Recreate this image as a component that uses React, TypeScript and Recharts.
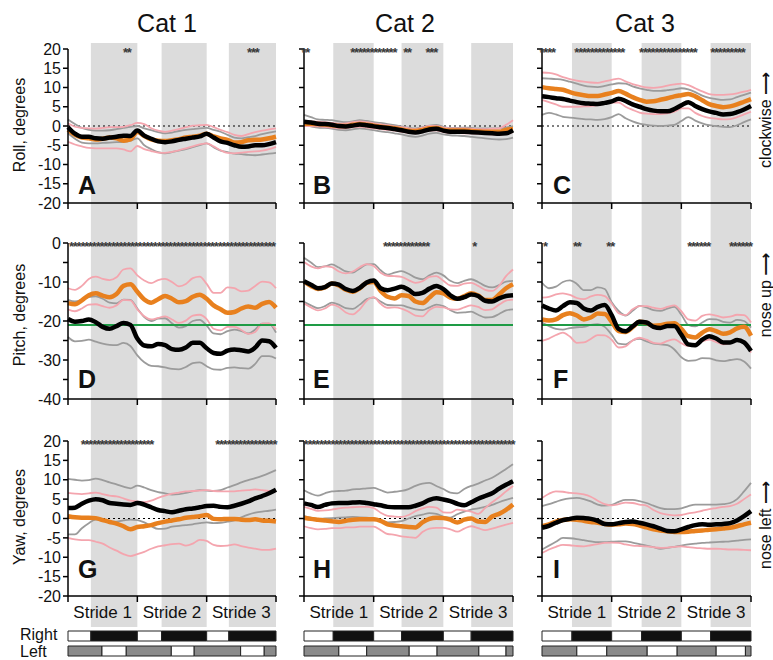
import React from 'react';
import {
  ComposedChart,
  Line,
  XAxis,
  YAxis,
  ReferenceArea,
  ReferenceLine,
  BarChart,
  Bar,
  Cell,
} from 'recharts';

const FONT = '"Liberation Sans", Arial, sans-serif';
const ORANGE = '#E8801E';
const PINK = '#F4A5AE';
const GRAY = '#9B9B9B';
const BAND = '#DCDCDC';
const GREEN = '#1E9B45';

// sample grid: 0..3 strides, every 0.1 stride
const STRIDE_PTS = Array.from({ length: 31 }, (_, i) => i / 10);
const STRIDE_LABELS = ['Stride 1', 'Stride 2', 'Stride 3'];

// ---- Roll, Cat 1 (A)
const A_ORANGE = [-1, -2.3, -3, -3.2, -3.5, -3.3, -3, -3.2, -3.8, -3.5, -1.5, -2.6, -3.5, -3.8, -3.9, -3.7, -3.4, -3, -2.8, -2.5, -2, -2.7, -3.2, -3.6, -4.3, -4.2, -3.7, -3.6, -3.5, -3.2, -2.8];
const A_ORANGE_HI = [0.7, -0.2, -0.5, -0.6, -0.7, -0.5, -0.3, -0.3, -0.2, 0.2, 0.8, 0.5, -0.6, -1.2, -1.5, -1.2, -0.8, -0.3, 0.1, 0.2, 0.3, -0.3, -1, -1.6, -2.3, -2.6, -2.1, -1.6, -1.2, -0.9, -0.6];
const A_ORANGE_LO = [-4.1, -4.8, -5.3, -5.7, -5.8, -5.8, -5.8, -5.8, -6.1, -6.6, -5.2, -6, -6.5, -6.9, -7, -6.7, -6.3, -5.8, -5.3, -4.8, -4.5, -5.3, -6.3, -7, -7.1, -6.9, -6.7, -6.6, -6.4, -6, -5.4];
const A_BLACK = [-0.3, -2, -2.8, -2.8, -3.2, -3.3, -3, -2.8, -2.5, -2.6, -1.2, -2.5, -3.3, -4, -4.2, -4, -3.6, -3.3, -3, -2.7, -2, -3, -4, -4.4, -5, -5.4, -5.3, -5, -5, -4.7, -4.2];
const A_BLACK_HI = [1.7, 0.5, -0.5, -1, -1.2, -1.2, -1.1, -0.8, -0.5, -0.2, 0, -0.6, -1.1, -1.6, -1.9, -1.7, -1.3, -1, -0.8, -0.6, -0.5, -1, -1.5, -2.3, -3, -3.2, -2.9, -2.6, -2.1, -1.7, -1.4];
const A_BLACK_LO = [-1.9, -3.3, -4.3, -4.5, -4.5, -4.4, -4.3, -4.2, -4.1, -3.8, -3.2, -5, -6, -6.8, -7.1, -6.8, -6.4, -6, -5.5, -5, -4.5, -5.5, -6.4, -6.8, -7.2, -7.3, -7.5, -7.6, -7.4, -7.2, -7];

// ---- Roll, Cat 2 (B)
const B_ORANGE = [0.6, 0.6, 0.5, 0.4, 0.2, 0, 0, 0.3, 0.5, 0.3, 0.1, -0.2, -0.4, -0.6, -0.9, -1.2, -1.3, -1, -0.6, -0.5, -1, -1.2, -1.2, -1.2, -1.3, -1.4, -1.5, -1.5, -1.5, -1, -0.8];
const B_ORANGE_HI = [1.2, 1.2, 1.1, 1, 0.8, 0.6, 0.7, 1, 1.2, 1, 0.7, 0.4, 0.2, -0.1, -0.3, -0.6, -0.8, -0.4, 0, 0, -0.4, -0.6, -0.6, -0.6, -0.7, -0.8, -0.8, -0.7, -0.6, 0.3, 1.5];
const B_ORANGE_LO = [0, 0, -0.1, -0.2, -0.4, -0.6, -0.6, -0.3, -0.2, -0.4, -0.6, -0.8, -1, -1.2, -1.5, -1.8, -1.9, -1.6, -1.2, -1.1, -1.6, -1.8, -1.8, -1.9, -1.9, -2, -2.1, -2.2, -2.3, -2, -1.6];
const B_BLACK = [1.1, 0.9, 0.6, 0.5, 0.3, 0, -0.1, 0.1, 0.4, 0.2, -0.1, -0.3, -0.5, -0.8, -1.1, -1.5, -1.7, -1.4, -0.9, -0.7, -1.2, -1.5, -1.5, -1.5, -1.6, -1.7, -1.8, -1.9, -2, -1.9, -1.1];
const B_BLACK_HI = [2.9, 2.3, 1.7, 1.6, 1.5, 1.2, 1, 1.2, 1.5, 1.3, 1, 0.8, 0.5, 0.2, -0.1, -0.4, -0.6, -0.3, 0.1, 0.3, -0.2, -0.5, -0.5, -0.4, -0.5, -0.6, -0.6, -0.6, -0.6, -0.4, 0];
const B_BLACK_LO = [0.2, -0.1, -0.4, -0.5, -0.7, -1, -1.1, -0.9, -0.6, -0.8, -1.1, -1.4, -1.6, -1.9, -2.2, -2.6, -2.8, -2.5, -2, -1.8, -2.2, -2.4, -2.5, -2.6, -2.8, -3, -3.2, -3.4, -3.5, -3.4, -3];

// ---- Roll, Cat 3 (C)
const C_ORANGE = [10.1, 9.8, 9.6, 9.4, 8.8, 8.3, 8, 7.8, 7.8, 8.2, 8.6, 9.1, 8.4, 7.5, 6.8, 6.3, 6.4, 6.8, 7.2, 7.7, 8, 8.3, 7.7, 6.7, 5.7, 5.2, 4.9, 5.1, 5.6, 6.3, 7];
const C_ORANGE_HI = [13.9, 13.8, 13.4, 12.7, 12.2, 11.8, 11.5, 11.3, 11.2, 11.6, 12, 12.3, 11.6, 10.9, 10.4, 10, 9.9, 10.1, 10.5, 10.8, 11, 10.6, 9.8, 9, 8.3, 8.1, 8.1, 8.2, 8.5, 8.9, 9.4];
const C_ORANGE_LO = [6.8, 6.2, 5.6, 5, 5, 5, 5.1, 5.2, 5.4, 5.8, 6.1, 6.1, 5, 4.2, 3.5, 3.2, 3.1, 3.1, 3.3, 3.7, 4.6, 4.6, 3.4, 2.6, 2.1, 1.9, 1.7, 1.8, 2.3, 3, 3.7];
const C_BLACK = [7.7, 7.5, 7.2, 7, 6.6, 6.2, 5.9, 5.8, 5.7, 6, 6.4, 7.1, 6.5, 5.6, 5, 4.4, 4, 3.8, 3.8, 4.4, 5.4, 6.2, 5.2, 4.4, 3.8, 3.4, 3, 3.1, 3.6, 4.3, 5.2];
const C_BLACK_HI = [12.4, 12.3, 12.2, 12, 11.5, 11, 10.5, 10.2, 10.1, 10.4, 10.8, 11.1, 11, 10.3, 9.8, 9.4, 9.1, 9.1, 9.3, 9.5, 9.8, 9.5, 8.8, 7.9, 7.3, 7, 6.8, 6.9, 7.5, 8.1, 8.7];
const C_BLACK_LO = [2.9, 3.4, 3, 2.4, 2.2, 2, 1.8, 1.7, 1.6, 1.8, 2.3, 3.1, 2, 1.2, 0.6, 0.3, 0.1, 0, 0.1, 0.3, 1.3, 2.3, 1.4, 0.7, 0.2, 0, -0.2, -0.3, 0.2, 1, 1.7];

// ---- Pitch, Cat 1 (D)
const D_ORANGE = [-15.4, -15.7, -14.7, -13.4, -12.9, -13.5, -13.9, -13.1, -11, -10.6, -12.5, -14.5, -15.3, -14.4, -13.6, -14.3, -15.2, -14.9, -13.8, -13.3, -14.3, -16, -17, -17.9, -17.7, -16.8, -16.3, -16.6, -15.6, -15.1, -16.6];
const D_ORANGE_HI = [-11.6, -12, -11, -9.2, -8.6, -9.2, -9.5, -8.8, -6.8, -6.5, -8.3, -9.6, -10.3, -9.5, -9.2, -10, -11.1, -10.5, -9, -8.6, -10.5, -12.8, -12.8, -11.4, -11.6, -12.4, -12.2, -11, -9.9, -10.1, -11.6];
const D_ORANGE_LO = [-17, -17.5, -16.8, -15.8, -15.7, -16.2, -16.6, -16, -14.6, -14.7, -17, -18.8, -19.6, -19.2, -18.8, -19.6, -20.5, -19.9, -18.6, -18.4, -19.5, -22, -22.4, -21.5, -21.5, -22.3, -23.3, -22.8, -20.7, -20.6, -22.2];
const D_BLACK = [-19.5, -20.2, -20, -19.6, -20.3, -21.5, -22, -21.3, -20.5, -21, -24.5, -26.3, -26.5, -25.9, -26.2, -27.2, -27.4, -26.8, -25.6, -25.6, -27, -28.2, -28.4, -27.6, -27.3, -27.5, -27.8, -26.8, -25, -25.2, -26.9];
const D_BLACK_HI = [-14.6, -15, -14.6, -13.9, -13.7, -14.3, -15.3, -15.5, -14.5, -14.6, -16.8, -19, -20, -19.4, -19.3, -20.6, -21.7, -21.3, -20, -19.7, -21.2, -23.2, -23.4, -22.6, -22.2, -22.6, -23.2, -22.2, -20.7, -20.7, -23];
const D_BLACK_LO = [-24.1, -25.2, -25.1, -24.8, -25.3, -25.8, -26.1, -26.2, -25.6, -26.4, -28.8, -30.6, -31.5, -31.6, -31.9, -32.3, -32.4, -31.8, -30.8, -30.6, -31.6, -32.4, -32.5, -32, -31.9, -32.1, -32.2, -31, -29, -29, -29.6];

// ---- Pitch, Cat 2 (E)
const E_ORANGE = [-9.9, -11, -11.8, -11.4, -10.4, -10.9, -12, -12.5, -11.6, -10.2, -10, -12.3, -13.8, -14.2, -13.4, -13.6, -15, -15.4, -14, -12.6, -12.9, -14, -14.3, -13.6, -12.9, -13.5, -14.6, -14.6, -13.2, -11.6, -10.6];
const E_ORANGE_HI = [-4.9, -6, -6.5, -6, -6.2, -7.3, -7.8, -7.3, -6.2, -5.4, -5.9, -7.6, -8.4, -8.5, -8.7, -9.5, -10.2, -9.8, -8.7, -8.5, -9.7, -10.9, -11, -10.4, -10.2, -11, -12, -12.3, -11, -8.5, -6.8];
const E_ORANGE_LO = [-15.5, -16.5, -17.3, -16.8, -15.8, -16.4, -17.8, -18.3, -17, -14.8, -13.9, -15.6, -16.6, -16.5, -16.8, -17.6, -18.6, -18.8, -17.2, -16.4, -16.5, -17, -17.1, -16.5, -16, -16.4, -17.2, -17, -15.8, -14.8, -14.5];
const E_BLACK = [-9.8, -10.7, -11.6, -11.3, -10.4, -10.7, -11.8, -12.3, -11.5, -10.1, -9.6, -11.6, -12.1, -11.7, -11.2, -12, -13.1, -12.8, -11.7, -11, -11.8, -13.4, -14.3, -13.9, -13.2, -13.6, -14.8, -15, -14.2, -13.6, -13.4];
const E_BLACK_HI = [-3.8, -5, -6.2, -6, -5.5, -6.3, -7.3, -7.6, -6.5, -5.5, -5.4, -7, -8.1, -7.6, -7.2, -7.9, -8.9, -9.3, -8.3, -7.6, -8.3, -9.7, -10.3, -9.7, -9.3, -10, -11, -11.4, -10.8, -9.9, -9.7];
const E_BLACK_LO = [-15.1, -16, -16.7, -16.2, -15.3, -15.8, -16.7, -16.9, -15.8, -14.4, -14, -15, -15.9, -16, -16, -16.5, -17, -17.2, -16.5, -15.8, -16.2, -17.2, -17.9, -17.8, -17.6, -18.4, -19.1, -19, -18.2, -17.3, -17];

// ---- Pitch, Cat 3 (F)
const F_ORANGE = [-19.6, -19.9, -19.6, -18.5, -18, -18.6, -19.6, -19.1, -18.1, -18.2, -20.2, -22.6, -22.8, -21.6, -20.2, -20.5, -21.2, -21.1, -20.7, -20.6, -22, -23.9, -24.2, -23, -22.1, -22.6, -23.3, -22.9, -21.9, -21.5, -23.8];
const F_ORANGE_HI = [-14, -13.8, -13.2, -12.9, -13.3, -14.1, -14.4, -13.7, -13.3, -13.6, -15.5, -18, -18.5, -17, -16.2, -16.2, -16.6, -16.9, -16.4, -16, -17.5, -19.6, -19.9, -18.7, -18.3, -18.6, -19.1, -18.9, -18.4, -18.5, -20.4];
const F_ORANGE_LO = [-25.1, -24.5, -23.6, -23, -24, -25.6, -25.5, -24.6, -23.6, -23.7, -24.8, -26.8, -26.5, -25, -24.3, -24.8, -25.6, -25.8, -25.1, -24.7, -25.7, -26.4, -26.1, -25.2, -24.8, -25.4, -26, -25.7, -25.1, -25.5, -28.1];
const F_BLACK = [-16, -16.8, -17.3, -16.2, -15.2, -15.4, -16.8, -17.3, -16.4, -15.9, -18.5, -22, -22.6, -21.4, -20.2, -20.4, -21.5, -21.8, -21.3, -21.3, -23.5, -26, -26.2, -24.8, -23.9, -24.5, -25.5, -25.5, -24.9, -25.5, -27.7];
const F_BLACK_HI = [-10.2, -11.6, -11.2, -10, -9.6, -10.5, -12.1, -12.1, -11.4, -11.8, -15.2, -17.4, -18.6, -17.4, -16.1, -16.5, -17.2, -17.4, -16.8, -16.4, -18.4, -21, -21.4, -20.4, -19.5, -19.6, -20.2, -20.4, -19.7, -20, -21.7];
const F_BLACK_LO = [-20.4, -21.3, -22, -22.2, -21.8, -21.6, -21.5, -21, -20.8, -21.5, -23.5, -25.8, -26, -25, -24.6, -25.2, -25.8, -26, -26.2, -27.3, -29.3, -30.2, -30.1, -29.5, -29.6, -30.1, -30.3, -30, -29.8, -30.4, -32.2];

// ---- Yaw, Cat 1 (G)
const G_ORANGE = [0.6, 0.3, 0.2, 0.2, 0.1, -0.4, -0.9, -1.3, -2, -2.8, -2.2, -2, -1.7, -1.2, -0.8, -0.5, -0.2, 0.2, 0.4, 0.6, 0.9, -0.1, -0.2, -0.1, -0.1, -0.3, -0.4, -0.2, -0.5, -0.6, -0.8];
const G_ORANGE_HI = [6.6, 6.4, 6.3, 6.5, 6.7, 6.3, 5.9, 5.7, 5.2, 4.6, 4.4, 4.2, 4.6, 5.3, 5.9, 6.4, 6.7, 7, 7.1, 7.2, 7.3, 7.1, 7, 7, 7, 7.2, 7.3, 7.5, 7.3, 7.1, 7];
const G_ORANGE_LO = [-5, -5.4, -5.6, -5.6, -6, -6.5, -7.5, -8.3, -9.2, -9.7, -9.2, -8.6, -7.8, -7.2, -6.9, -6.6, -6.5, -7, -6.5, -5.5, -5.8, -6.8, -7.1, -7, -6.7, -7.1, -7.5, -7.8, -8.1, -8.1, -7.8];
const G_BLACK = [2.7, 2.8, 3.8, 4.6, 5, 4.7, 4, 3.8, 3.6, 3.5, 4, 3.6, 2.9, 2.2, 1.9, 1.6, 2, 2.4, 2.6, 2.9, 3.2, 3.3, 3, 2.9, 3.3, 3.8, 4.4, 5.2, 5.8, 6.5, 7.4];
const G_BLACK_HI = [10.2, 10, 9.8, 9.9, 10.3, 9.9, 9.3, 8.8, 8.2, 7.8, 8.5, 8, 7.3, 6.8, 6.5, 6.2, 6.3, 6.6, 7, 7.3, 7.2, 7.1, 7.3, 8, 8.6, 9.3, 9.9, 10.4, 11, 11.7, 12.5];
const G_BLACK_LO = [-4.1, -4.1, -2.5, -1.2, -0.3, -0.5, -0.8, -0.8, -0.5, -0.3, -0.4, -1, -2, -2.7, -2.6, -2.1, -1.9, -1.7, -1.5, -1.2, -1, -1.2, -1.1, -0.8, -0.5, 0.3, 1, 1.5, 1.8, 2, 2.3];

// ---- Yaw, Cat 2 (H)
const H_ORANGE = [0.2, -0.1, -0.3, -0.5, -0.7, -0.9, -0.6, -0.3, -0.2, -0.2, -0.2, -0.6, -1.5, -1.8, -2, -2.2, -2.3, -1, -0.1, 0.2, 0.1, -0.3, -1, -0.3, 0, -0.8, -0.9, 0.5, 1.2, 2.2, 3.6];
const H_ORANGE_HI = [3, 2.5, 2, 2.1, 2.3, 2.6, 2.8, 2.9, 3, 3, 2.7, 1.5, 0.7, 0.5, 0.4, 0.9, 1.9, 2.6, 3, 2.8, 1.6, 1.5, 2.3, 2.1, 1.8, 1.2, 2.7, 4.2, 5.5, 7, 8.4];
const H_ORANGE_LO = [-2, -2.5, -2.8, -2.7, -2.5, -2.5, -2.3, -2.3, -2.1, -2.1, -2.1, -3, -4, -4.2, -4.6, -4.8, -5, -3.5, -2.6, -2.4, -2.4, -2.8, -3.4, -2.6, -2, -2.5, -3, -2.6, -2.1, -1.6, -1.1];
const H_BLACK = [3.9, 3.5, 3, 3.5, 3.9, 4, 4, 4.1, 4.2, 4, 3.7, 3.4, 3, 2.9, 2.9, 2.9, 3.3, 3.9, 4.8, 5.2, 4.9, 4.5, 3.8, 3.4, 4.2, 5.1, 5.8, 6.5, 7.7, 8.7, 9.6];
const H_BLACK_HI = [7.3, 6.4, 5.9, 6.5, 7, 7.1, 7.2, 7.5, 7.6, 7.8, 7.9, 7.3, 6.7, 6.9, 7.1, 7.6, 8.4, 9, 9.2, 8.4, 7.6, 6.7, 6.5, 7.6, 8.4, 9, 9.8, 10.5, 11.6, 12.8, 14];
const H_BLACK_LO = [0.6, 0.2, -0.1, 0, 0.1, 0.2, 0.3, 0.4, 0.3, 0.2, 0.1, -0.5, -1, -0.9, -0.7, 0, 0.6, 1, 1.4, 1.2, 0.5, 0.2, 1.1, 1.8, 2.3, 2.6, 3, 3.5, 4.2, 4.8, 5.3];

// ---- Yaw, Cat 3 (I)
const I_ORANGE = [-2, -1.5, -0.8, -0.4, -0.2, -0.3, -0.6, -0.9, -1.1, -1.4, -1.6, -1.5, -1.3, -1.4, -1.8, -2.3, -2.8, -3.1, -3.3, -3.5, -3.5, -3.4, -3.2, -3.1, -2.9, -2.8, -2.6, -2.4, -2, -1.5, -1.1];
const I_ORANGE_HI = [5.3, 6.4, 7, 6.9, 6.6, 6.5, 6.2, 5.6, 4.6, 3.7, 3.4, 3.7, 4.1, 4, 3.6, 3.3, 2.2, 1.4, 1, 0.8, 0.9, 1.3, 1.6, 2, 2.4, 2.7, 3, 3.2, 3.8, 5, 6.2];
const I_ORANGE_LO = [-8.9, -8, -7.3, -6.8, -6.9, -7.1, -7.2, -6.9, -6.6, -6.3, -6.2, -6.3, -6.7, -7, -7.1, -7.2, -7.4, -7.6, -7.5, -7.3, -7.2, -7.4, -7.6, -7.7, -7.8, -7.8, -7.9, -8, -8, -8.1, -8.2];
const I_BLACK = [-2.4, -1.9, -1.1, -0.4, -0.1, 0.2, 0.1, -0.1, -0.6, -1.4, -1.5, -1.2, -0.9, -0.8, -1.1, -1.5, -2, -2.6, -3.2, -3.3, -2.8, -2.2, -1.7, -1.5, -1.6, -1.5, -1.4, -1.2, -0.5, 0.6, 1.9];
const I_BLACK_HI = [3.2, 3.7, 4.3, 4.9, 5.2, 5.3, 5, 4.4, 3.6, 3.3, 3.5, 4.3, 4.8, 4.8, 4.5, 4, 3.3, 2.7, 2.4, 2.4, 2.6, 3.2, 3.6, 3.6, 3.6, 3.6, 3.7, 4, 5, 7, 9.2];
const I_BLACK_LO = [-8, -7, -6, -5, -5.1, -5.3, -5.6, -5.9, -6.1, -6.1, -6, -5.9, -5.9, -6.2, -6.6, -7, -7.4, -7.8, -7.6, -7.3, -7, -6.7, -6.5, -6.3, -6.2, -6.1, -6, -5.9, -5.7, -5.5, -5.4];

// stance phases in stride units (Right stance = grey bands)
const RIGHT_STANCE_1 = [[0.33, 1.0], [1.35, 2.0], [2.32, 3.0]];
const RIGHT_STANCE_2 = [[0.42, 1.0], [1.4, 2.0], [2.4, 3.0]];
const RIGHT_STANCE_3 = [[0.43, 1.0], [1.43, 2.0], [2.42, 3.0]];
const LEFT_STANCE_1 = [[0, 0.49], [0.84, 1.49], [1.82, 2.49], [2.83, 3.0]];
const LEFT_STANCE_2 = [[0, 0.5], [0.9, 1.51], [1.91, 2.51], [2.9, 3.0]];
const LEFT_STANCE_3 = [[0, 0.5], [0.93, 1.51], [1.94, 2.5], [2.92, 3.0]];

// significance marks (ranges in stride units)
const STARS_A = [[0.83, 0.9], [2.62, 2.76]];
const STARS_B = [[0.0, 0.06], [0.7, 1.33], [1.46, 1.53], [1.78, 1.9]];
const STARS_C = [[0.0, 0.2], [0.5, 1.2], [1.43, 2.2], [2.45, 2.93]];
const STARS_D = [[0.05, 3.0]];
const STARS_E = [[1.17, 1.79], [2.45, 2.45]];
const STARS_F = [[0.05, 0.05], [0.48, 0.58], [0.96, 1.06], [2.12, 2.4], [2.72, 3.0]];
const STARS_G = [[0.22, 1.25], [2.16, 3.0]];
const STARS_H = [[0.03, 3.0]];
const STARS_I: number[][] = [];

const ROLL_TICKS = [-20, -15, -10, -5, 0, 5, 10, 15, 20];
const PITCH_TICKS = [-40, -35, -30, -25, -20, -15, -10, -5, 0];

// bandTop: where the grey stance bands start inside each svg
const ROWS = [
  { top: 33, height: 190, mTop: 16, bandTop: 10, axisH: 20, domain: [-20, 20], ticks: ROLL_TICKS, every: 5, zero: true, green: null },
  { top: 223, height: 197, mTop: 20, bandTop: 0, axisH: 21, domain: [-40, 0], ticks: PITCH_TICKS, every: 10, zero: false, green: -21 },
  { top: 420, height: 207, mTop: 21, bandTop: 0, axisH: 6, domain: [-20, 20], ticks: ROLL_TICKS, every: 5, zero: true, green: null },
];

const COLS = [
  { left: 0, width: 282, axisW: 68, plotW: 208 },
  { left: 290, width: 228, axisW: 14, plotW: 209 },
  { left: 528, width: 228, axisW: 14, plotW: 209 },
];

const PANELS = [
  { row: 0, col: 0, o: A_ORANGE, oh: A_ORANGE_HI, ol: A_ORANGE_LO, b: A_BLACK, bh: A_BLACK_HI, bl: A_BLACK_LO, stars: STARS_A },
  { row: 0, col: 1, o: B_ORANGE, oh: B_ORANGE_HI, ol: B_ORANGE_LO, b: B_BLACK, bh: B_BLACK_HI, bl: B_BLACK_LO, stars: STARS_B },
  { row: 0, col: 2, o: C_ORANGE, oh: C_ORANGE_HI, ol: C_ORANGE_LO, b: C_BLACK, bh: C_BLACK_HI, bl: C_BLACK_LO, stars: STARS_C },
  { row: 1, col: 0, o: D_ORANGE, oh: D_ORANGE_HI, ol: D_ORANGE_LO, b: D_BLACK, bh: D_BLACK_HI, bl: D_BLACK_LO, stars: STARS_D },
  { row: 1, col: 1, o: E_ORANGE, oh: E_ORANGE_HI, ol: E_ORANGE_LO, b: E_BLACK, bh: E_BLACK_HI, bl: E_BLACK_LO, stars: STARS_E },
  { row: 1, col: 2, o: F_ORANGE, oh: F_ORANGE_HI, ol: F_ORANGE_LO, b: F_BLACK, bh: F_BLACK_HI, bl: F_BLACK_LO, stars: STARS_F },
  { row: 2, col: 0, o: G_ORANGE, oh: G_ORANGE_HI, ol: G_ORANGE_LO, b: G_BLACK, bh: G_BLACK_HI, bl: G_BLACK_LO, stars: STARS_G },
  { row: 2, col: 1, o: H_ORANGE, oh: H_ORANGE_HI, ol: H_ORANGE_LO, b: H_BLACK, bh: H_BLACK_HI, bl: H_BLACK_LO, stars: STARS_H },
  { row: 2, col: 2, o: I_ORANGE, oh: I_ORANGE_HI, ol: I_ORANGE_LO, b: I_BLACK, bh: I_BLACK_HI, bl: I_BLACK_LO, stars: STARS_I },
];

const BANDS = [RIGHT_STANCE_1, RIGHT_STANCE_2, RIGHT_STANCE_3];
const LEFTS = [LEFT_STANCE_1, LEFT_STANCE_2, LEFT_STANCE_3];

const STAR_STEP = 0.055;

function makeStars(ranges: number[][], top: number) {
  const pts: { s: number; y: number }[] = [];
  ranges.forEach(([a, b]) => {
    for (let x = a; x <= b + 1e-6; x += STAR_STEP) pts.push({ s: x, y: top });
  });
  return pts;
}

const StarDot = (p: any) => {
  if (p.cx == null || p.cy == null) return <g key={`st-${p.index}`} />;
  return (
    <text key={`st-${p.index}`} x={p.cx} y={p.cy} dy={7.5} textAnchor="middle" fontSize={13} fontWeight="bold" fill="#3a3a3a" fontFamily={FONT}>
      *
    </text>
  );
};

const axisStyle = { stroke: '#000', strokeWidth: 1.5 };

function Panel({ p }: { p: any }) {
  const r = ROWS[p.row];
  const c = COLS[p.col];
  const data = STRIDE_PTS.map((s, i) => ({
    s,
    o: p.o[i],
    oh: p.oh[i],
    ol: p.ol[i],
    b: p.b[i],
    bh: p.bh[i],
    bl: p.bl[i],
  }));
  const stars = makeStars(p.stars, r.domain[1]);
  const fmtY = (v: number) => (p.col === 0 && v % r.every === 0 ? String(v) : '');
  const H = r.height;
  return (
    <div style={{ position: 'absolute', left: c.left, top: r.top }}>
      <ComposedChart
        width={c.width}
        height={H}
        data={data}
        margin={{ top: r.mTop, right: c.width - c.axisW - c.plotW, bottom: 0, left: 0 }}
      >
        <XAxis
          dataKey="s"
          type="number"
          domain={[0, 3]}
          ticks={[0, 1, 2, 3]}
          interval={0}
          tickFormatter={() => ''}
          height={r.axisH}
          tickSize={6}
          axisLine={axisStyle}
          tickLine={axisStyle}
        />
        {p.row === 2 && (
          <XAxis
            xAxisId="lbl"
            dataKey="s"
            type="number"
            domain={[0, 3]}
            ticks={[0.5, 1.5, 2.5]}
            interval={0}
            tickFormatter={(_v: number, i: number) => STRIDE_LABELS[i]}
            axisLine={false}
            tickLine={false}
            tickSize={0}
            tickMargin={4}
            height={25}
            tick={{ fontSize: 17, fill: '#111', fontFamily: FONT }}
          />
        )}
        <YAxis
          type="number"
          domain={r.domain}
          ticks={r.ticks}
          interval={0}
          width={c.axisW}
          tickSize={5}
          tickMargin={2}
          tickFormatter={fmtY}
          axisLine={axisStyle}
          tickLine={axisStyle}
          tick={{ fontSize: 16, fill: '#111', fontFamily: FONT }}
        />
        {BANDS[p.col].map(([a, b]) => (
          <ReferenceArea
            key={`band-${a}`}
            x1={a}
            x2={b}
            shape={(sp: any) => <rect x={sp.x} y={r.bandTop} width={sp.width} height={H - r.bandTop} fill={BAND} />}
          />
        ))}
        {r.zero && <ReferenceLine y={0} stroke="#000" strokeDasharray="2 3" strokeWidth={1} />}
        <Line dataKey="bh" type="monotone" stroke={GRAY} strokeWidth={1.8} dot={false} activeDot={false} isAnimationActive={false} />
        <Line dataKey="bl" type="monotone" stroke={GRAY} strokeWidth={1.8} dot={false} activeDot={false} isAnimationActive={false} />
        <Line dataKey="oh" type="monotone" stroke={PINK} strokeWidth={1.8} dot={false} activeDot={false} isAnimationActive={false} />
        <Line dataKey="ol" type="monotone" stroke={PINK} strokeWidth={1.8} dot={false} activeDot={false} isAnimationActive={false} />
        {r.green !== null && <ReferenceLine y={r.green} stroke={GREEN} strokeWidth={2} />}
        <Line dataKey="o" type="monotone" stroke={ORANGE} strokeWidth={4.5} dot={false} activeDot={false} isAnimationActive={false} />
        <Line dataKey="b" type="monotone" stroke="#000" strokeWidth={4.5} dot={false} activeDot={false} isAnimationActive={false} />
        {stars.length > 0 && (
          <Line data={stars} dataKey="y" stroke="none" dot={StarDot} activeDot={false} isAnimationActive={false} />
        )}
      </ComposedChart>
    </div>
  );
}

function toSegments(intervals: number[][]) {
  const segs: { len: number; on: boolean }[] = [];
  let pos = 0;
  intervals.forEach(([a, b]) => {
    if (a > pos + 1e-6) segs.push({ len: a - pos, on: false });
    segs.push({ len: b - a, on: true });
    pos = b;
  });
  if (pos < 3 - 1e-6) segs.push({ len: 3 - pos, on: false });
  return segs;
}

const RowTick = (p: any) => (
  <text
    x={p.x - 48}
    y={p.y}
    dy={p.index === 0 ? '0.28em' : '0.42em'}
    textAnchor="start"
    fontSize={16}
    fill="#111"
    fontFamily={FONT}
  >
    {p.payload.value}
  </text>
);

function StanceBars({ col }: { col: number }) {
  const c = COLS[col];
  const rs = toSegments(BANDS[col]);
  const ls = toSegments(LEFTS[col]);
  const n = Math.max(rs.length, ls.length);
  const rowR: any = { name: 'Right' };
  const rowL: any = { name: 'Left' };
  rs.forEach((s, i) => (rowR[`s${i}`] = s.len));
  ls.forEach((s, i) => (rowL[`s${i}`] = s.len));
  const rows = [rowR, rowL];
  const idx = Array.from({ length: n }, (_, i) => i);
  return (
    <div style={{ position: 'absolute', left: c.left, top: 627 }}>
      <BarChart
        layout="vertical"
        width={c.width}
        height={33}
        data={rows}
        margin={{ top: 1, bottom: 2, left: col === 0 ? 0 : c.axisW, right: c.width - c.axisW - c.plotW }}
      >
        <XAxis type="number" domain={[0, 3]} hide />
        <YAxis
          type="category"
          dataKey="name"
          width={c.axisW}
          hide={col !== 0}
          interval={0}
          axisLine={false}
          tickLine={false}
          tickSize={0}
          tickMargin={0}
          tick={RowTick}
        />
        {idx.map((i) => (
          <Bar key={i} dataKey={`s${i}`} stackId="st" barSize={10} stroke="#222" strokeWidth={1} isAnimationActive={false}>
            <Cell fill={rs[i] && rs[i].on ? '#111' : '#fff'} />
            <Cell fill={ls[i] && ls[i].on ? '#8A8A8A' : '#fff'} />
          </Bar>
        ))}
      </BarChart>
    </div>
  );
}

const TITLES = [
  { text: 'Cat 1', x: 167 },
  { text: 'Cat 2', x: 405 },
  { text: 'Cat 3', x: 645 },
];
const Y_TITLES = [
  { text: 'Roll, degrees', y: 125 },
  { text: 'Pitch, degrees', y: 315 },
  { text: 'Yaw, degrees', y: 517 },
];
const SIDE_LABELS = [
  { text: 'clockwise', y: 120 },
  { text: 'nose up', y: 295 },
  { text: 'nose left', y: 525 },
];
const LETTERS = ['A', 'B', 'C', 'D', 'E', 'F', 'G', 'H', 'I'];
const LETTER_X = [78, 313, 553];
const LETTER_Y = [194, 388, 578];

export default function App() {
  return (
    <div style={{ position: 'absolute', left: 0, top: 0, width: 773, height: 660, background: '#fff', overflow: 'hidden', fontFamily: FONT }}>
      {PANELS.map((p, i) => (
        <Panel key={i} p={p} />
      ))}
      {[0, 1, 2].map((c) => (
        <StanceBars key={c} col={c} />
      ))}
      <svg width={773} height={660} style={{ position: 'absolute', left: 0, top: 0, pointerEvents: 'none' }}>
        {TITLES.map((t) => (
          <text key={t.text} x={t.x} y={32} textAnchor="middle" fontSize={25} fill="#111" fontFamily={FONT}>
            {t.text}
          </text>
        ))}
        {Y_TITLES.map((t) => (
          <text
            key={t.text}
            transform={`translate(19,${t.y}) rotate(-90)`}
            textAnchor="middle"
            dominantBaseline="central"
            fontSize={16}
            fill="#111"
            fontFamily={FONT}
          >
            {t.text}
          </text>
        ))}
        {SIDE_LABELS.map((t) => (
          <text
            key={t.text}
            transform={`translate(765,${t.y}) rotate(-90)`}
            textAnchor="middle"
            dominantBaseline="central"
            fontSize={16}
            fill="#111"
            fontFamily={FONT}
          >
            {t.text} <tspan fontFamily="DejaVu Sans" fontWeight="bold">⟶</tspan>
          </text>
        ))}
        {LETTERS.map((l, i) => (
          <text
            key={l}
            x={LETTER_X[i % 3]}
            y={LETTER_Y[Math.floor(i / 3)]}
            fontSize={25}
            fontWeight="bold"
            fill="#111"
            fontFamily={FONT}
          >
            {l}
          </text>
        ))}
      </svg>
    </div>
  );
}
